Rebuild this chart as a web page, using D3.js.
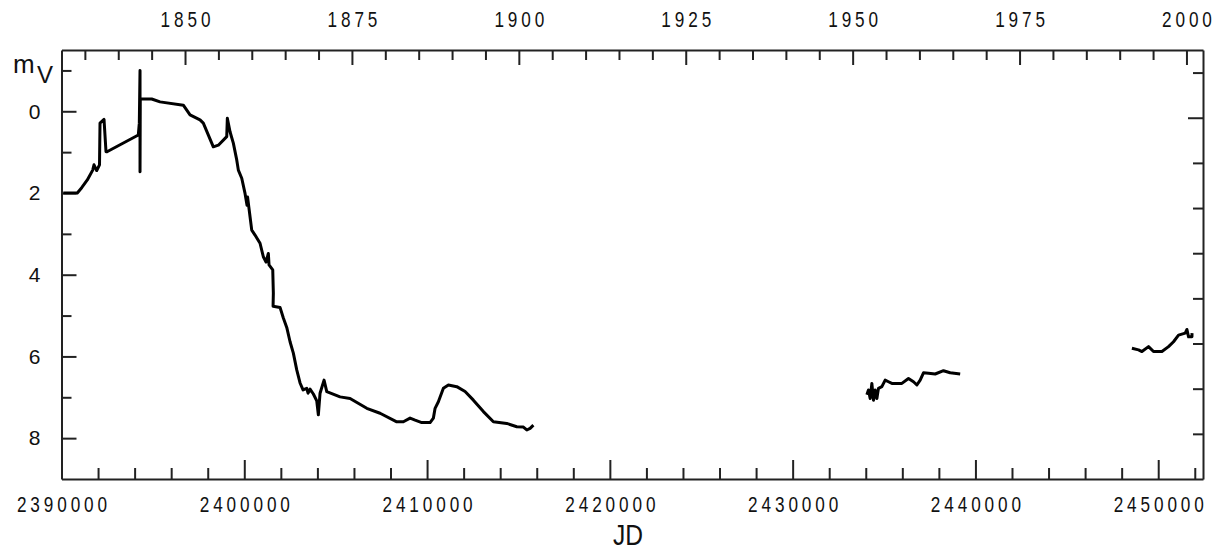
<html>
<head>
<title>Light curve</title>
<script src="https://d3js.org/d3.v7.min.js"></script>
<style>
body { margin: 0; background: #ffffff; }
text { font-family: "Liberation Sans", Arial, sans-serif; fill: #111111; }
</style>
</head>
<body>
<div id="canvas"></div>
<script>

// historical part (1830s - 1910s)
var jd1 = [2390098, 2390865, 2391105, 2391412, 2391707, 2391778, 2391926, 2392079, 2392107, 2392326,
           2392435, 2392490, 2394203, 2394257, 2394296, 2394296, 2394310, 2394936, 2395390, 2396665,
           2397032, 2397579, 2397759, 2398306, 2398580, 2399040, 2399073, 2399220, 2399401, 2399587,
           2399675, 2399861, 2400041, 2400150, 2400180, 2400315, 2400408, 2400588, 2400862, 2401042,
           2401190, 2401316, 2401354, 2401557, 2401590, 2401575, 2401956, 2402137, 2402323, 2402504,
           2402684, 2402870, 2403051, 2403215, 2403417, 2403489, 2403598, 2403779, 2403965, 2404052,
           2404145, 2404364, 2404512, 2405240, 2405787, 2406701, 2407428, 2408342, 2408703, 2409070,
           2409344, 2409710, 2410164, 2410345, 2410438, 2410618, 2410892, 2411166, 2411625, 2412080,
           2412534, 2413081, 2413628, 2414361, 2414908, 2415270, 2415456, 2415637, 2415817];
var mag1 = [2.00, 2.00, 1.87, 1.68, 1.44, 1.31, 1.45, 1.31, 0.29, 0.20,
            0.99, 0.99, 0.58, 0.29, -1.00, 1.48, -0.30, -0.30, -0.23, -0.15,
            0.09, 0.21, 0.29, 0.87, 0.83, 0.62, 0.17, 0.50, 0.78, 1.19,
            1.44, 1.64, 2.01, 2.30, 2.10, 2.58, 2.91, 3.03, 3.23, 3.56,
            3.69, 3.48, 3.76, 3.88, 4.45, 4.77, 4.80, 5.06, 5.29, 5.64,
            5.92, 6.33, 6.65, 6.82, 6.78, 6.90, 6.80, 6.92, 7.09, 7.43,
            6.90, 6.58, 6.86, 6.99, 7.03, 7.27, 7.39, 7.60, 7.60, 7.51,
            7.56, 7.62, 7.62, 7.51, 7.27, 7.11, 6.78, 6.70, 6.74, 6.86,
            7.07, 7.35, 7.60, 7.64, 7.72, 7.73, 7.80, 7.76, 7.68];

// 1950s - 1960s
var jd2 = [2434061, 2434148, 2434241, 2434334, 2434422, 2434515, 2434608, 2434695, 2434881, 2435062,
           2435243, 2435429, 2435976, 2436337, 2436611, 2436797, 2436977, 2437158, 2437431, 2437798,
           2438252, 2438619, 2439166];
var mag2 = [6.94, 6.82, 7.03, 6.66, 7.07, 6.82, 7.03, 6.78, 6.74, 6.58,
            6.62, 6.66, 6.66, 6.54, 6.62, 6.70, 6.58, 6.40, 6.41, 6.43,
            6.35, 6.40, 6.43];

// 1990s
var jd3 = [2448561, 2448923, 2449109, 2449470, 2449743, 2450203, 2450564, 2450838, 2451111, 2451478,
           2451571, 2451659, 2451845, 2451850];
var mag3 = [5.80, 5.84, 5.88, 5.76, 5.88, 5.88, 5.76, 5.64, 5.48, 5.43,
            5.34, 5.52, 5.52, 5.43];

var magTicks = [-1, 0, 1, 2, 3, 4, 5, 6, 7, 8];
var jdTicks = d3.range(2390000, 2452001, 2000);
var yearTicks = d3.range(1835, 2001, 5);
var rightTicks = d3.range(0, 9);

var plotLeft = 61.5, plotRight = 1203, plotTop = 50, plotBottom = 479;

var svg = d3.select("#canvas")
            .append("svg")
            .attr("width", 1226)
            .attr("height", 552);

var x = d3.scaleLinear().domain([2390000, 2452450]).range([plotLeft, plotRight]);
var y = d3.scaleLinear().domain([-1.5, 9]).range([plotTop, plotBottom]);
var yR = d3.scaleLinear().domain([-0.5, 9]).range([plotTop, plotBottom]);

var toYear = function(jd) { return 2000 + (jd - 2451545) / 365.25; };
var xYear = d3.scaleLinear().domain(x.domain().map(toYear)).range(x.range());

var styleAxis = function(g) {
   g.selectAll("path").attr("stroke", "#222").attr("stroke-width", 2);
   g.selectAll("line").attr("stroke", "#222").attr("stroke-width", 2);
   g.selectAll("text").style("font-family", "'Liberation Sans', Arial, sans-serif")
                      .attr("fill", "#111");
};

// narrow digits with wide spacing, like the original plotter font
var narrow = function(sel) {
   sel.style("font-size", "22px")
      .style("letter-spacing", "5px")
      .attr("dx", "2.5px")
      .attr("transform", "scale(0.78,1)");
};

// bottom: JD
var gBottom = svg.append("g")
                 .attr("transform", "translate(0," + plotBottom + ")")
                 .call(d3.axisBottom(x)
                         .tickValues(jdTicks)
                         .tickSizeInner(-11)
                         .tickSizeOuter(0)
                         .tickPadding(17)
                         .tickFormat(function(d) { return d % 10000 === 0 ? d : ""; }))
                 .call(styleAxis);
gBottom.selectAll(".tick line")
       .attr("y2", function(d) { return d % 10000 === 0 ? -19 : -11; });
gBottom.selectAll("text").call(narrow);

// top: years
var gTop = svg.append("g")
              .attr("transform", "translate(0," + plotTop + ")")
              .call(d3.axisTop(xYear)
                      .tickValues(yearTicks)
                      .tickSizeInner(-10)
                      .tickSizeOuter(0)
                      .tickPadding(23)
                      .tickFormat(function(d) { return d % 25 === 0 ? d : ""; }))
              .call(styleAxis);
gTop.selectAll(".tick line")
    .attr("y2", function(d) { return d % 25 === 0 ? 15 : 10; });
gTop.selectAll("text").call(narrow);

// left: magnitude
var gLeft = svg.append("g")
               .attr("transform", "translate(" + plotLeft + ",0)")
               .call(d3.axisLeft(y)
                       .tickValues(magTicks)
                       .tickSizeInner(-10)
                       .tickSizeOuter(0)
                       .tickPadding(0)
                       .tickFormat(function(d) { return d % 2 === 0 ? d : ""; }))
               .call(styleAxis);
gLeft.selectAll(".tick line")
     .attr("x2", function(d) { return d % 2 === 0 ? 15 : 10; });
gLeft.selectAll("text")
     .attr("x", -27)
     .attr("text-anchor", "middle")
     .style("font-size", "21px")
     .attr("transform", "scale(1.0,1)");

// right
var gRight = svg.append("g")
                .attr("transform", "translate(" + plotRight + ",0)")
                .call(d3.axisRight(yR)
                        .tickValues(rightTicks)
                        .tickSizeInner(-10)
                        .tickSizeOuter(0)
                        .tickFormat(""))
                .call(styleAxis);
gRight.selectAll(".tick line")
      .attr("x2", function(d) { return d === 1 ? -15 : -10; });

// axis titles
var mLabel = svg.append("text")
                .attr("x", 13)
                .attr("y", 73)
                .style("font-size", "26px")
                .text("m");
mLabel.append("tspan")
      .attr("x", 37)
      .attr("y", 83)
      .style("font-size", "24px")
      .text("V");

svg.append("g")
   .attr("transform", "translate(628,545) scale(0.82,1)")
   .append("text")
   .attr("text-anchor", "middle")
   .style("font-size", "30px")
   .text("JD");

// light curve
var line = d3.line()
             .x(function(d) { return x(d[0]); })
             .y(function(d) { return y(d[1]); });

[[jd1, mag1], [jd2, mag2], [jd3, mag3]].forEach(function(s) {
   svg.append("path")
      .datum(d3.zip(s[0], s[1]))
      .attr("d", line)
      .attr("fill", "none")
      .attr("stroke", "#000")
      .attr("stroke-width", 3)
      .attr("stroke-linejoin", "round");
});

</script>
</body>
</html>
